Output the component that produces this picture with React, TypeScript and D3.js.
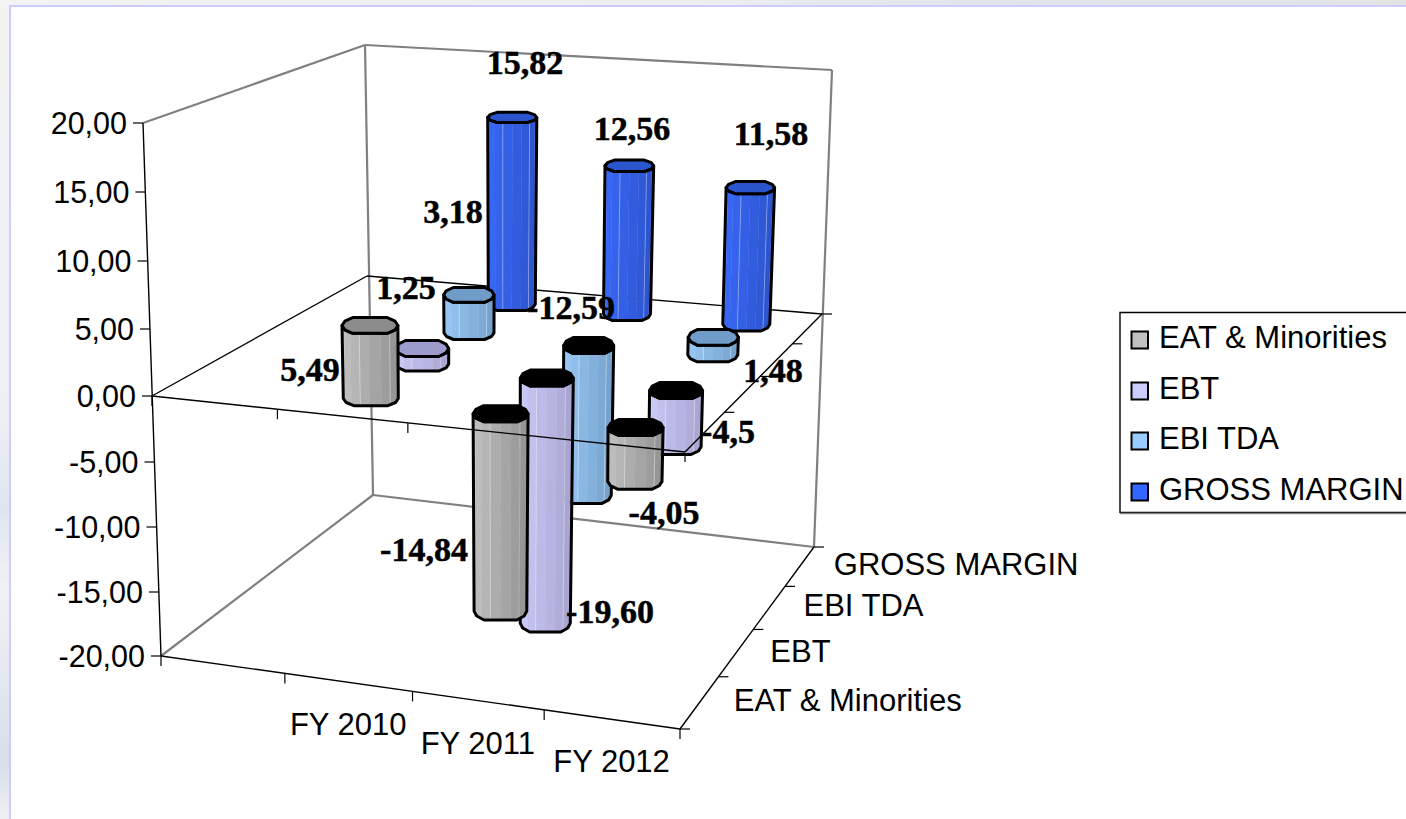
import React from "react";
import * as d3 from "d3";

// ---- data ----
const categories = ["", "FY 2010", "FY 2011", "FY 2012"];
const seriesNames = ["EAT & Minorities", "EBT", "EBI TDA", "GROSS MARGIN"];
const eatValues = [5.49, -14.84, -4.05];
const ebtValues = [1.25, -19.6, -4.5];
const ebitdaValues = [3.18, -12.59, 1.48];
const grossValues = [15.82, 12.56, 11.58];
const eatLabels = ["5,49", "-14,84", "-4,05"];
const ebtLabels = ["1,25", "-19,60", "-4,5"];
const ebitdaLabels = ["3,18", "-12,59", "1,48"];
const grossLabels = ["15,82", "12,56", "11,58"];
const valueTicks = [20, 15, 10, 5, 0, -5, -10, -15, -20];
const valueTickLabels = ["20,00", "15,00", "10,00", "5,00", "0,00", "-5,00", "-10,00", "-15,00", "-20,00"];

// ---- layout ----
const W = 1406, H = 819;
type Pt = [number, number];
const tickYs = [123, 192, 261, 329, 396, 462, 527, 592, 656];
const tickXs = [143, 145.5, 147.5, 150, 152, 154.5, 156.5, 159, 161];
const yAxis = d3.scaleLinear().domain(valueTicks).range(tickYs);
const xAxis = d3.scaleLinear().domain(valueTicks).range(tickXs);

function homography(p0: Pt, p1: Pt, p2: Pt, p3: Pt) {
  const dx1 = p1[0] - p2[0], dx2 = p3[0] - p2[0], dy1 = p1[1] - p2[1], dy2 = p3[1] - p2[1];
  const sx = p0[0] - p1[0] + p2[0] - p3[0], sy = p0[1] - p1[1] + p2[1] - p3[1];
  const den = dx1 * dy2 - dx2 * dy1;
  const g = (sx * dy2 - dx2 * sy) / den, h = (dx1 * sy - sx * dy1) / den;
  const a = p1[0] - p0[0] + g * p1[0], b = p3[0] - p0[0] + h * p3[0], c = p0[0];
  const d = p1[1] - p0[1] + g * p1[1], e = p3[1] - p0[1] + h * p3[1], f = p0[1];
  return (u: number, v: number): Pt => {
    const w = g * u + h * v + 1;
    return [(a * u + b * v + c) / w, (d * u + e * v + f) / w];
  };
}
const zero = { fl: [152, 396] as Pt, fr: [685, 452] as Pt, br: [822, 314] as Pt, bl: [367, 276] as Pt };
const floor = { fl: [161, 656] as Pt, fr: [680, 729] as Pt, br: [814, 547] as Pt, bl: [373, 495] as Pt };
const top = { fl: [143, 123] as Pt, br: [832, 70] as Pt, bl: [365, 45] as Pt };
const zeroP = homography(zero.fl, zero.fr, zero.br, zero.bl);
const floorP = homography(floor.fl, floor.fr, floor.br, floor.bl);

const uScale = d3.scaleBand().domain(categories).range([0, 1]);
const vScale = d3.scaleBand().domain(seriesNames).range([0, 1]);
const uTicks = [0, 0.25, 0.5, 0.75, 1];
const vTicks = [0, 0.25, 0.5, 0.75, 1];
const kScale = d3.scaleLinear().domain([0.125, 0.375, 0.625, 0.875]).range([13.3, 12.5, 11.9, 11.8]);
const radiusBySeries = [27.5, 26.5, 25, 23.5];
const ryTop = d3.scaleLinear().domain([110, 340]).range([5, 8]).clamp(true);
const ryBottom = d3.scaleLinear().domain([300, 630]).range([6.5, 9]).clamp(true);
// Cross-section of a column: flat front and back with chamfered shoulders.
const shapeY = d3.scaleLinear().domain([-1, -0.9, -0.62, 0.62, 0.9, 1]).range([0, 0.55, 1, 1, 0.55, 0]);
const shapeXs = [1, 0.9, 0.62, -0.62, -0.9, -1];

const palette = [
  { light: "#c8c8c8", dark: "#8a8a8a", top: "#8c8c8c", swatch: "#c0c0c0" },
  { light: "#d2d2ff", dark: "#a09cc8", top: "#9c9ccc", swatch: "#ccccff" },
  { light: "#a0d0ff", dark: "#6c98c0", top: "#6f9cc8", swatch: "#99ccff" },
  { light: "#3a6cff", dark: "#2a50c4", top: "#2a55cc", swatch: "#3366ff" },
];

// Text centres (x) and baselines (y) of the hand-placed data labels, [series][category].
const labelSpots: Pt[][] = [
  [[310, 381], [424, 561], [664, 524]],
  [[406, 299], [610, 623], [728, 443]],
  [[453, 223], [571, 319], [773, 382]],
  [[525, 74], [632, 140], [771, 145]],
];

const valuesBySeries = [eatValues, ebtValues, ebitdaValues, grossValues];
const labelsBySeries = [eatLabels, ebtLabels, ebitdaLabels, grossLabels];

const poly = (pts: Pt[]) => "M" + pts.map((p) => p[0].toFixed(1) + "," + p[1].toFixed(1)).join("L") + "Z";
type Ring = { x: number; y: number; r: number; ry: number };
const onFront = (c: Ring, sx: number): Pt => [c.x + c.r * sx, c.y + c.ry * shapeY(sx)];
const onBack = (c: Ring, sx: number): Pt => [c.x + c.r * sx, c.y - c.ry * shapeY(sx)];

function Bar({ si, ci }: { si: number; ci: number }) {
  const value = valuesBySeries[si][ci];
  const cat = categories[ci + 1];
  const u = uScale(cat)! + uScale.bandwidth() / 2;
  const v = vScale(seriesNames[si])! + vScale.bandwidth() / 2;
  const [px, py] = zeroP(u, v);
  const bx = px + 2 * (1 - u);
  const by = py + (value < 0 ? 3 : 1);
  const k = kScale(v);
  const at = (val: number) => ({
    x: bx + (bx - 490) * 0.00135 * val,
    y: by - val * k,
    r: radiusBySeries[si] * (1 + 0.0028 * val),
  });
  const h0 = at(Math.max(value, 0));
  const l0 = at(Math.min(value, 0));
  const hi: Ring = { ...h0, ry: ryTop(h0.y) };
  const lo: Ring = { ...l0, ry: ryBottom(l0.y) };
  const c = palette[si];
  const color = d3.interpolateRgb(c.light, c.dark);
  const facets = 8;
  const faces = d3.range(facets).map((i) => {
    const sa = -Math.cos((Math.PI * i) / facets), sb = -Math.cos((Math.PI * (i + 1)) / facets);
    return { d: poly([onFront(hi, sa), onFront(hi, sb), onFront(lo, sb), onFront(lo, sa)]), fill: color((i + 0.5) / facets) };
  });
  const glints = [3, 6].map((i) => {
    const s = -Math.cos((Math.PI * i) / facets);
    const a = onFront(hi, s), b = onFront(lo, s);
    return { x1: a[0], y1: a[1], x2: b[0], y2: b[1] };
  });
  const outline = [...shapeXs.map((s) => onFront(hi, s)), ...shapeXs.slice().reverse().map((s) => onFront(lo, s))];
  const cap = [...shapeXs.map((s) => onFront(hi, s)), ...shapeXs.slice(1, -1).reverse().map((s) => onBack(hi, s))];
  return (
    <g>
      {faces.map((f, i) => <path key={i} d={f.d} fill={f.fill} stroke={f.fill} strokeWidth={0.4} />)}
      {glints.map((g, i) => <line key={i} {...g} stroke="#fff" strokeOpacity={0.35} strokeWidth={1} />)}
      <path d={poly(outline)} fill="none" stroke="#000" strokeWidth={3} strokeLinejoin="round" />
      <path d={poly(cap)} fill={value < 0 ? "#000" : c.top} stroke="#000" strokeWidth={3} strokeLinejoin="round" />
    </g>
  );
}

const Seg = ({ a, b, gray = false }: { a: Pt; b: Pt; gray?: boolean }) => (
  <line x1={a[0]} y1={a[1]} x2={b[0]} y2={b[1]} stroke={gray ? "#808080" : "#000"} strokeWidth={gray ? 2.2 : 1.4} />
);

export default function App() {
  const sansFont = "'Liberation Sans', Arial, sans-serif";
  const serifFont = "'Liberation Serif', 'Times New Roman', serif";
  const legendRows = [348, 399, 449, 500];
  return (
    <svg width={W} height={H} viewBox={`0 0 ${W} ${H}`} style={{ position: "fixed", left: 0, top: 0, display: "block" }}>
      <defs>
        <linearGradient id="strip" x1="0" y1="0" x2="0" y2="1">
          <stop offset="0" stopColor="#f3f3f3" />
          <stop offset="0.5" stopColor="#eef0f4" />
          <stop offset="0.62" stopColor="#dfe5f0" />
          <stop offset="0.72" stopColor="#f0f2f4" />
          <stop offset="0.93" stopColor="#d8deea" />
          <stop offset="1" stopColor="#eef0f2" />
        </linearGradient>
        <linearGradient id="bandTop" x1="0" y1="0" x2="1" y2="0">
          <stop offset="0" stopColor="#f3f3f3" />
          <stop offset="0.5" stopColor="#eceeee" />
          <stop offset="0.7" stopColor="#dfe6ec" />
          <stop offset="1" stopColor="#e2e4e4" />
        </linearGradient>
      </defs>
      <rect x={0} y={0} width={W} height={H} fill="url(#strip)" />
      <rect x={0} y={0} width={W} height={6} fill="url(#bandTop)" />
      <rect x={10} y={6} width={W} height={H} fill="#fff" stroke="#ccccff" strokeWidth={2} />

      {/* walls */}
      <Seg a={top.fl} b={top.bl} gray />
      <Seg a={top.bl} b={top.br} gray />
      <Seg a={top.bl} b={floor.bl} gray />
      <Seg a={top.br} b={floor.br} gray />
      <Seg a={floor.fl} b={floor.bl} gray />
      <Seg a={floor.bl} b={floor.br} gray />
      <Seg a={zero.fl} b={zero.bl} />
      <Seg a={zero.bl} b={zero.br} />

      {/* axes */}
      <Seg a={top.fl} b={floor.fl} />
      <Seg a={floor.fl} b={floor.fr} />
      <Seg a={floor.fr} b={floor.br} />
      {valueTicks.map((t, i) => {
        const x = xAxis(t), y = yAxis(t);
        return (
          <g key={t}>
            <line x1={x - 10} y1={y} x2={x} y2={y} stroke="#000" strokeWidth={1.2} />
            <text x={x - 16} y={y + 10.5} fontFamily={sansFont} fontSize={30.5} textAnchor="end">{valueTickLabels[i]}</text>
          </g>
        );
      })}
      {uTicks.map((u) => {
        const [x, y] = floorP(u, 0);
        const [zx, zy] = zeroP(u, 0);
        return (
          <g key={u}>
            <line x1={x} y1={y} x2={x} y2={y + 10} stroke="#000" strokeWidth={1.2} />
            <line x1={zx} y1={zy} x2={zx} y2={zy + 10} stroke="#000" strokeWidth={1.2} />
          </g>
        );
      })}
      {vTicks.map((v) => {
        const [x, y] = floorP(1, v);
        const [zx, zy] = zeroP(1, v);
        return (
          <g key={v}>
            <line x1={x} y1={y} x2={x + 10} y2={y} stroke="#000" strokeWidth={1.2} />
            <line x1={zx} y1={zy} x2={zx + 10} y2={zy} stroke="#000" strokeWidth={1.2} />
          </g>
        );
      })}
      {categories.slice(1).map((c) => {
        const [x, y] = floorP(uScale(c)! + uScale.bandwidth() / 2, 0);
        return <text key={c} x={x} y={y + 53} fontFamily={sansFont} fontSize={31} textAnchor="middle">{c}</text>;
      })}
      {seriesNames.map((s) => {
        const [x, y] = floorP(1, vScale(s)! + vScale.bandwidth() / 2);
        return <text key={s} x={x + 34} y={y + 9} fontFamily={sansFont} fontSize={31}>{s}</text>;
      })}

      {/* bars, back series first */}
      {[3, 2, 1, 0].flatMap((si) => [0, 1, 2].map((ci) => <Bar key={si + "-" + ci} si={si} ci={ci} />))}

      {/* zero-plane front edges run over the bars */}
      <Seg a={zero.fl} b={zero.fr} />
      <Seg a={zero.fr} b={zero.br} />

      {/* data labels */}
      {labelsBySeries.map((labels, si) =>
        labels.map((l, ci) => (
          <text key={si + "-" + ci} x={labelSpots[si][ci][0]} y={labelSpots[si][ci][1]} fontFamily={serifFont} fontWeight="bold" fontSize={34} stroke="#000" strokeWidth={0.5} textAnchor="middle">{l}</text>
        ))
      )}

      {/* legend */}
      <path d="M1406,512.5H1120V312.5H1406" fill="#fff" stroke="#000" strokeWidth={1.4} />
      <line x1={1120} y1={513.5} x2={1406} y2={513.5} stroke="#808080" strokeWidth={1.4} />
      {seriesNames.map((s, i) => (
        <g key={s}>
          <rect x={1131.5} y={legendRows[i] - 16.5} width={16.5} height={17} fill={palette[i].swatch} stroke="#000" strokeWidth={2} />
          <text x={1159} y={legendRows[i]} fontFamily={sansFont} fontSize={31}>{s}</text>
        </g>
      ))}
    </svg>
  );
}
